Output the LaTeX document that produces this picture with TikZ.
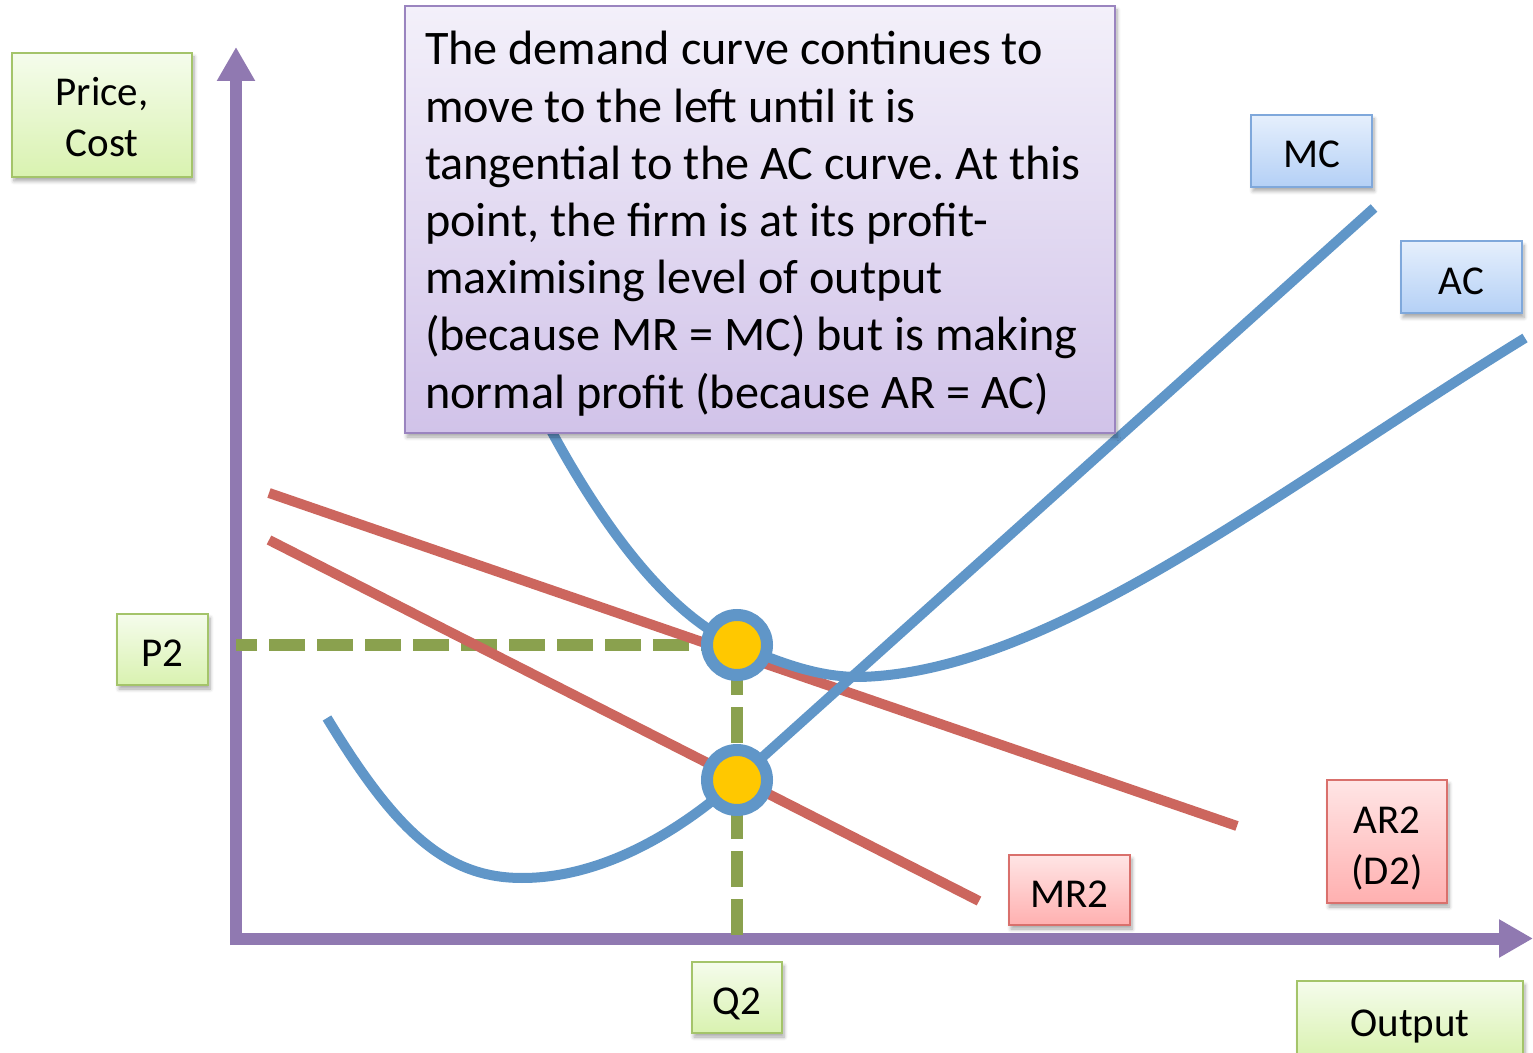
\documentclass[tikz,border=0pt]{standalone}
\usepackage{fontspec}
\setmainfont{Carlito}
\usetikzlibrary{arrows.meta,shadows.blur}
\definecolor{EcoAxis}{HTML}{9079B1}
\definecolor{EcoBlue}{HTML}{6096C8}
\definecolor{EcoRed}{HTML}{CC665E}
\definecolor{EcoGreen}{HTML}{8AA14E}
\definecolor{EcoYellow}{HTML}{FFC800}
\definecolor{GreenTop}{HTML}{F5FCEC}
\definecolor{GreenBot}{HTML}{D9F2B0}
\definecolor{GreenLine}{HTML}{A4C46A}
\definecolor{LilacTop}{HTML}{F3F0FA}
\definecolor{LilacBot}{HTML}{D1C3E9}
\definecolor{LilacLine}{HTML}{9A84BF}
\definecolor{BlueTop}{HTML}{E5EFFC}
\definecolor{BlueBot}{HTML}{B4D0F6}
\definecolor{BlueLine}{HTML}{7FA8DB}
\definecolor{RedTop}{HTML}{FFE5E5}
\definecolor{RedBot}{HTML}{FFB0B0}
\definecolor{RedLine}{HTML}{D9706C}
\frenchspacing
% two-line label, pushed down a little
\newcommand{\twolines}[2]{\raisebox{-#1}[\height][\depth]{\begin{tabular}{@{}c@{}}#2\end{tabular}}}

\begin{document}
\begin{tikzpicture}[x=0.5pt,y=-0.5pt,
  lab/.style={draw,line width=1pt,font=\fontsize{20.5}{25.5}\selectfont,align=center,inner sep=0pt,
    blur shadow={shadow xshift=1pt,shadow yshift=-2pt,shadow opacity=35,shadow blur steps=6}},
  oneline/.style={text height=21pt,text depth=4pt},
  greenlab/.style={lab,draw=GreenLine,top color=GreenTop,bottom color=GreenBot},
  bluelab/.style={lab,draw=BlueLine,top color=BlueTop,bottom color=BlueBot},
  redlab/.style={lab,draw=RedLine,top color=RedTop,bottom color=RedBot},
  axis/.style={draw=EcoAxis,line width=6pt,-{Triangle[length=17pt,width=18pt]}},
  guide/.style={draw=EcoGreen,line width=6pt,dash pattern=on 18pt off 6pt},
  costline/.style={draw=EcoBlue,line width=5pt},
  revline/.style={draw=EcoRed,line width=5pt},
  spot/.style={circle,draw=EcoBlue,line width=6pt,fill=EcoYellow,minimum size=30pt,inner sep=0pt}]
\useasboundingbox (0,0) rectangle (1533,1053);

% axes
\coordinate (origin) at (236,938.5);
\draw[axis] (236,945) -- (236,47);
\draw[axis] (230,938.5) -- (1533,938.5);

% equilibrium points
\coordinate (pq) at (737,645);
\coordinate (mq) at (737,780);
\coordinate (p2y) at (236,645);
\coordinate (q2x) at (737,935);
\draw[guide] (pq) -- (p2y);
\draw[guide] (q2x) -- (pq);

% revenue curves
\draw[revline] (269,493) -- (1237,826);
\draw[revline] (269,540) -- (979,901);

% cost curves
\draw[costline] (327,718) .. controls (395,830) and (445,878) .. (522,878)
  .. controls (600,878) and (677,834) .. (mq) -- (1374,208);
\draw[costline] (530,390) .. controls (600,530) and (670,615) .. (pq)
  .. controls (780,662) and (815,677) .. (860,677)
  .. controls (1050,672) and (1270,495) .. (1525,338);

\node[spot] (tangent) at (pq) {};
\node[spot] (mrmc) at (mq) {};

% labels
\node[draw=LilacLine,line width=1pt,top color=LilacTop,bottom color=LilacBot,
  minimum width=355pt,minimum height=213.5pt,text width=335pt,align=left,inner xsep=10pt,inner ysep=5pt,
  font=\fontsize{24.1}{28.6}\selectfont,
  blur shadow={shadow xshift=1pt,shadow yshift=-2pt,shadow opacity=35,shadow blur steps=6}]
  (note) at (760,219.5) {\rule{0pt}{20.8pt}\spaceskip=0pt The demand curve continues to\\move to the left until it is\\tangential to the AC curve. At this\\point, the firm is at its profit-\\maximising level of output\\(because MR = MC) but is making\\normal profit (because AR = AC)};
\node[greenlab,minimum width=90pt,minimum height=62pt] (price) at (102,115) {\twolines{3pt}{Price,\\Cost}};
\node[bluelab,oneline,minimum width=60.5pt,minimum height=36pt] (mclab) at (1311.5,151) {MC};
\node[bluelab,oneline,minimum width=60.5pt,minimum height=36pt] (aclab) at (1461.5,277.5) {AC};
\node[greenlab,oneline,minimum width=45.5pt,minimum height=35.5pt] (p2) at (162.5,649.5) {P2};
\node[greenlab,oneline,minimum width=45pt,minimum height=35.5pt] (q2) at (737,997.5) {Q2};
\node[redlab,oneline,minimum width=60.5pt,minimum height=35pt] (mr2) at (1069.5,890) {MR2};
\node[redlab,minimum width=60pt,minimum height=61.5pt] (ar2) at (1387,841.5) {\twolines{3.5pt}{AR2\\(D2)}};
\node[greenlab,oneline,minimum width=113pt,minimum height=38.5pt] (output) at (1410,1019.5) {Output};
\end{tikzpicture}
\end{document}
